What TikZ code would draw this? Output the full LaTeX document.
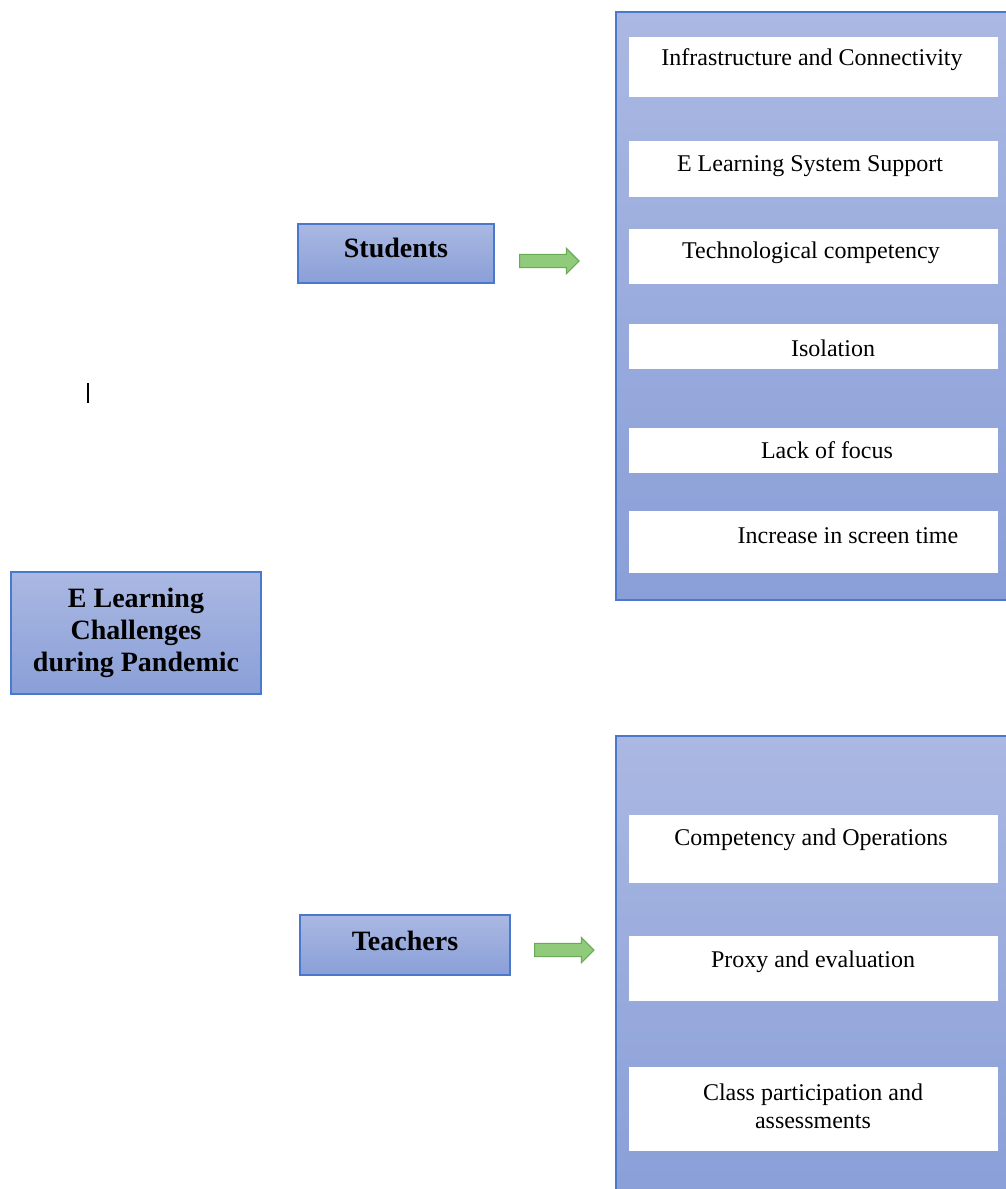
\documentclass[tikz,border=0pt]{standalone}
\usepackage{fontspec}
\setmainfont{Liberation Serif}
\usetikzlibrary{shapes.arrows}
\definecolor{boxtop}{HTML}{AAB8E2}
\definecolor{boxbot}{HTML}{8A9FD8}
\definecolor{boxline}{HTML}{4A78CC}
\definecolor{arrfill}{HTML}{8FCB7B}
\definecolor{arrline}{HTML}{6AAA55}
\tikzset{
  head/.style={draw=boxline, line width=1.5pt, top color=boxtop, bottom color=boxbot,
    inner sep=0pt, align=center, font=\bfseries\fontsize{21}{24}\selectfont},
  panel/.style={draw=boxline, line width=1.5pt, top color=boxtop, bottom color=boxbot,
    inner sep=0pt, minimum width=295.5pt},
  item/.style={fill=white, inner sep=0pt, minimum width=276.75pt},
  itemtext/.style={align=center, font=\fontsize{18}{21}\selectfont},
  fat/.style={single arrow, draw=arrline, fill=arrfill, line width=0.8pt,
    inner xsep=0pt, inner ysep=4.6pt, minimum height=44.5pt, single arrow head extend=4.5pt}
}
\begin{document}
\begin{tikzpicture}[x=0.75pt,y=-0.75pt]
\useasboundingbox (0,0) rectangle (1006,1189);
% left box and the two groups
\node[head, minimum width=187.5pt, minimum height=91.5pt] (main) at (136,633) {E Learning\\Challenges\\during Pandemic};
\node[head, minimum width=147pt, minimum height=44.25pt, text depth=8pt] (students) at (396,253.5) {Students};
\node[head, minimum width=157.5pt, minimum height=45pt, text depth=7pt] (teachers) at (405,945) {Teachers};
%
\node[fat] (arrS) at (546,261) {};
\node[fat] (arrT) at (561,950) {};
%
\draw[line width=1pt] (88,383) -- (88,403);
% students panel
\node[panel, minimum height=441pt] (pS) at (813,306) {};
\node[item, minimum height=45pt] (s1) at (813.5,67) {};
\node[item, minimum height=42pt] (s2) at (813.5,169) {};
\node[item, minimum height=41.25pt] (s3) at (813.5,256.5) {};
\node[item, minimum height=33.75pt] (s4) at (813.5,346.5) {};
\node[item, minimum height=33.75pt] (s5) at (813.5,450.5) {};
\node[item, minimum height=46.5pt] (s6) at (813.5,542) {};
\node[itemtext] (s1t) at (812,60) {Infrastructure and Connectivity};
\node[itemtext] (s2t) at (810,166) {E Learning System Support};
\node[itemtext] (s3t) at (811,253) {Technological competency};
\node[itemtext] (s4t) at (833,348) {Isolation};
\node[itemtext] (s5t) at (827,450) {Lack of focus};
\node[itemtext] (s6t) at (848,536) {Increase in screen time};
% teachers panel
\node[panel, minimum height=344.25pt] (pT) at (813,965.5) {};
\node[item, minimum height=51pt] (t1) at (813.5,849) {};
\node[item, minimum height=48.75pt] (t2) at (813.5,968.5) {};
\node[item, minimum height=63pt] (t3) at (813.5,1109) {};
\node[itemtext] (t1t) at (811,840) {Competency and Operations};
\node[itemtext] (t2t) at (813,962) {Proxy and evaluation};
\node[itemtext] (t3t) at (813,1106) {Class participation and\\assessments};
\end{tikzpicture}
\end{document}
